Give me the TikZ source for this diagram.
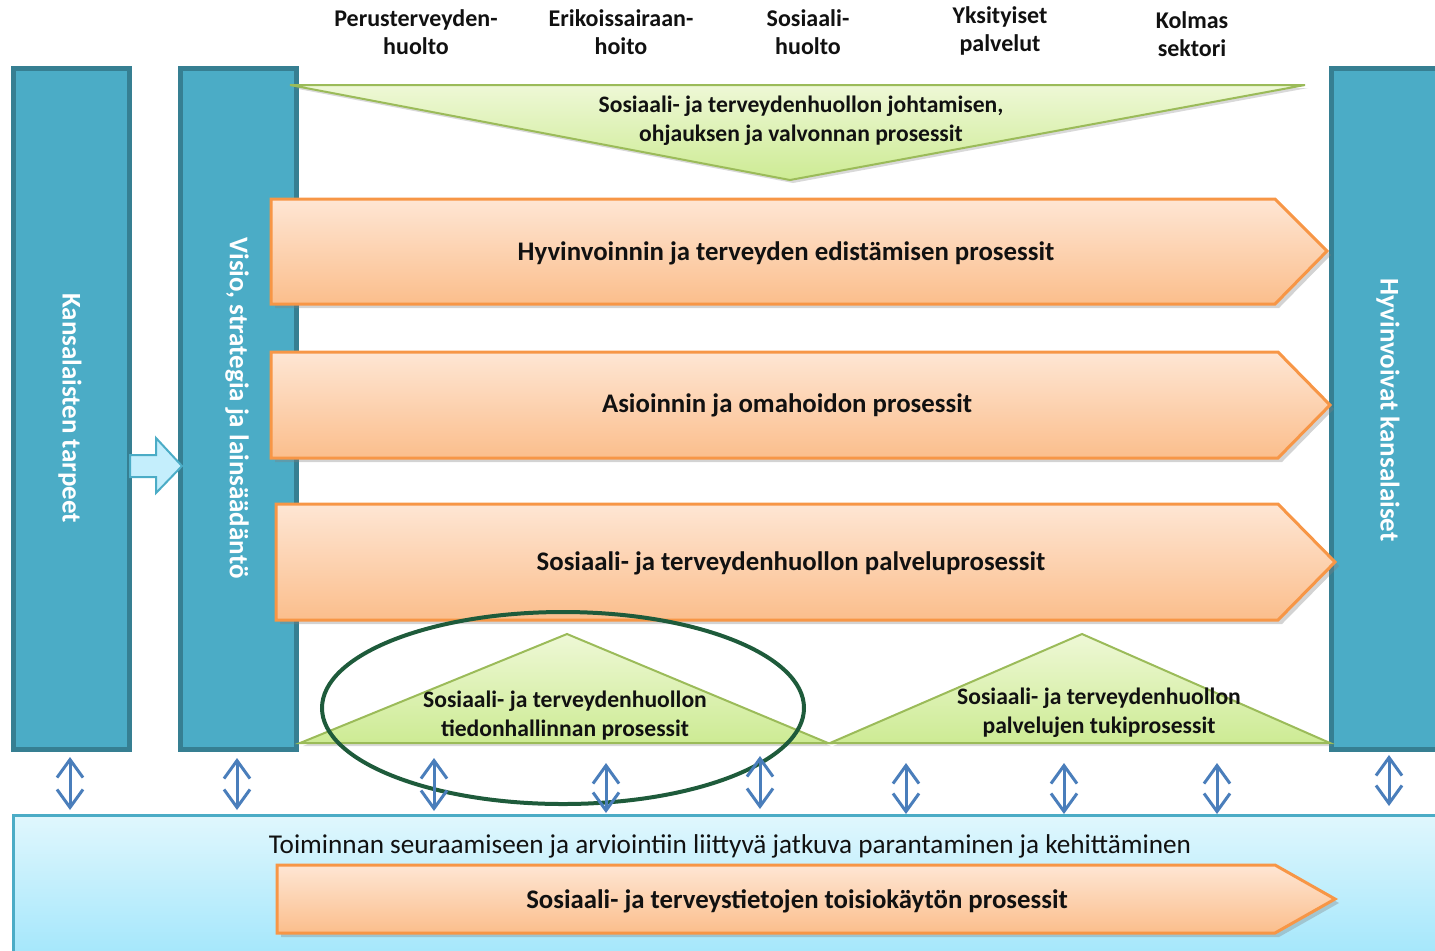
\documentclass[tikz,border=0pt]{standalone}
\usepackage{fontspec}
\setmainfont{Carlito}
\usetikzlibrary{arrows.meta,shadows}
\definecolor{tealfill}{HTML}{4BACC6}
\definecolor{tealdark}{HTML}{367F92}
\definecolor{orline}{HTML}{F79646}
\definecolor{ortop}{HTML}{FEE6D4}
\definecolor{orbot}{HTML}{FBBE8C}
\definecolor{grline}{HTML}{9BBB59}
\definecolor{grtop}{HTML}{EEF8D6}
\definecolor{grbot}{HTML}{CDEB94}
\definecolor{ellcol}{HTML}{1E5B3B}
\definecolor{dblcol}{HTML}{4A7EBB}
\definecolor{boxtop}{HTML}{E0F7FD}
\definecolor{boxbot}{HTML}{9EE5FB}
\definecolor{smallarrow}{HTML}{C4EEFC}
\definecolor{txt}{HTML}{111111}
\tikzset{
  column/.style={draw=tealdark, line width=2.5pt, fill=tealfill},
  coltext/.style={text=white, font=\fontsize{13.5}{16}\selectfont\bfseries, rotate=-90},
  orarrow/.style={draw=orline, line width=1.5pt, top color=ortop, bottom color=orbot, line join=miter,
     drop shadow={opacity=0.35, shadow xshift=2pt, shadow yshift=-2pt}},
  ortext/.style={text=txt, font=\fontsize{13.4}{16}\selectfont\bfseries},
  grtri/.style={draw=grline, line width=1pt, top color=grtop, bottom color=grbot,
     drop shadow={opacity=0.3, shadow xshift=1.5pt, shadow yshift=-1.5pt}},
  grtext/.style={text=txt, font=\fontsize{11.8}{14.5}\selectfont\bfseries, align=center},
  header/.style={text=txt, font=\fontsize{12}{14}\selectfont\bfseries, align=center},
  dbl/.style={draw=dblcol, line width=1.5pt, {Straight Barb[length=9pt,width=13pt]}-{Straight Barb[length=9pt,width=13pt]}},
}
\begin{document}
\begin{tikzpicture}[x=0.5pt,y=-0.5pt]
\useasboundingbox (0,0) rectangle (1435,950);
\clip (0,0) rectangle (1435,950);

% headers
\node[header] (h1) at (416,32) {Perusterveyden-\\huolto};
\node[header] (h2) at (621,32) {Erikoissairaan-\\hoito};
\node[header] (h3) at (808,32) {Sosiaali-\\huolto};
\node[header] (h4) at (1000,31) {Yksityiset\\palvelut};
\node[header] (h5) at (1192,34) {Kolmas\\sektori};

% bottom box
\path[draw=tealfill, line width=1.5pt, top color=boxtop, bottom color=boxbot] (13,815) rectangle (1460,970);
\node[text=txt, font=\fontsize{13.6}{16}\selectfont] (boxtext) at (730,846) {Toiminnan seuraamiseen ja arviointiin liittyvä jatkuva parantaminen ja kehittäminen};

% columns
\path[column] (13,68) rectangle (129,749);
\node[coltext] (c1) at (70,408) {Kansalaisten tarpeet};
\path[column] (180,68) rectangle (296,749);
\node[coltext] (c2) at (237,408) {Visio, strategia ja lainsäädäntö};
\path[column] (1331,68) rectangle (1460,749);
\node[coltext] (c3) at (1388,410) {Hyvinvoivat kansalaiset};

% small block arrow
\path[draw=tealfill, line width=1pt, fill=smallarrow] (130,455) -- (156,455) -- (156,438) -- (182,466) -- (156,493) -- (156,477) -- (130,477) -- cycle;

% top green triangle
\path[grtri] (290,85) -- (1305,85) -- (790,180) -- cycle;
\node[grtext] (toptext) at (801,121) {Sosiaali- ja terveydenhuollon johtamisen,\\ohjauksen ja valvonnan prosessit};

% orange arrows
\path[orarrow] (271,199) -- (1275,199) -- (1327,251) -- (1275,304) -- (271,304) -- cycle;
\node[ortext] (o1) at (786,253) {Hyvinvoinnin ja terveyden edistämisen prosessit};
\path[orarrow] (271,352) -- (1278,352) -- (1330,405) -- (1278,458) -- (271,458) -- cycle;
\node[ortext] (o2) at (787,405) {Asioinnin ja omahoidon prosessit};
\path[orarrow] (276,504) -- (1278,504) -- (1335,562) -- (1278,620) -- (276,620) -- cycle;
\node[ortext] (o3) at (791,563) {Sosiaali- ja terveydenhuollon palveluprosessit};
\path[orarrow] (277,865) -- (1275,865) -- (1335,899) -- (1275,933) -- (277,933) -- cycle;
\node[ortext] (o4) at (797,901) {Sosiaali- ja terveystietojen toisiokäytön prosessit};

% bottom green triangles
\path[grtri] (300,743) -- (567,634) -- (828,743) -- cycle;
\node[grtext] (t1) at (565,716) {Sosiaali- ja terveydenhuollon\\tiedonhallinnan prosessit};
\path[grtri] (830,743) -- (1082,634) -- (1330,743) -- cycle;
\node[grtext] (t2) at (1099,713) {Sosiaali- ja terveydenhuollon\\palvelujen tukiprosessit};

% ellipse
\draw[ellcol, line width=2pt] (563,708) ellipse [x radius=241, y radius=96];

% double arrows
\foreach \i/\x/\ya/\yb in {1/70/757/810, 2/237/758/810, 3/434/758/811, 4/606/763/813, 5/760/756/809, 6/906/763/814, 7/1064/763/814, 8/1217/763/814, 9/1389/755/806}{
  \coordinate (a\i) at (\x,\ya);
  \coordinate (b\i) at (\x,\yb);
  \draw[dbl] (a\i) -- (b\i);
}
\end{tikzpicture}
\end{document}
